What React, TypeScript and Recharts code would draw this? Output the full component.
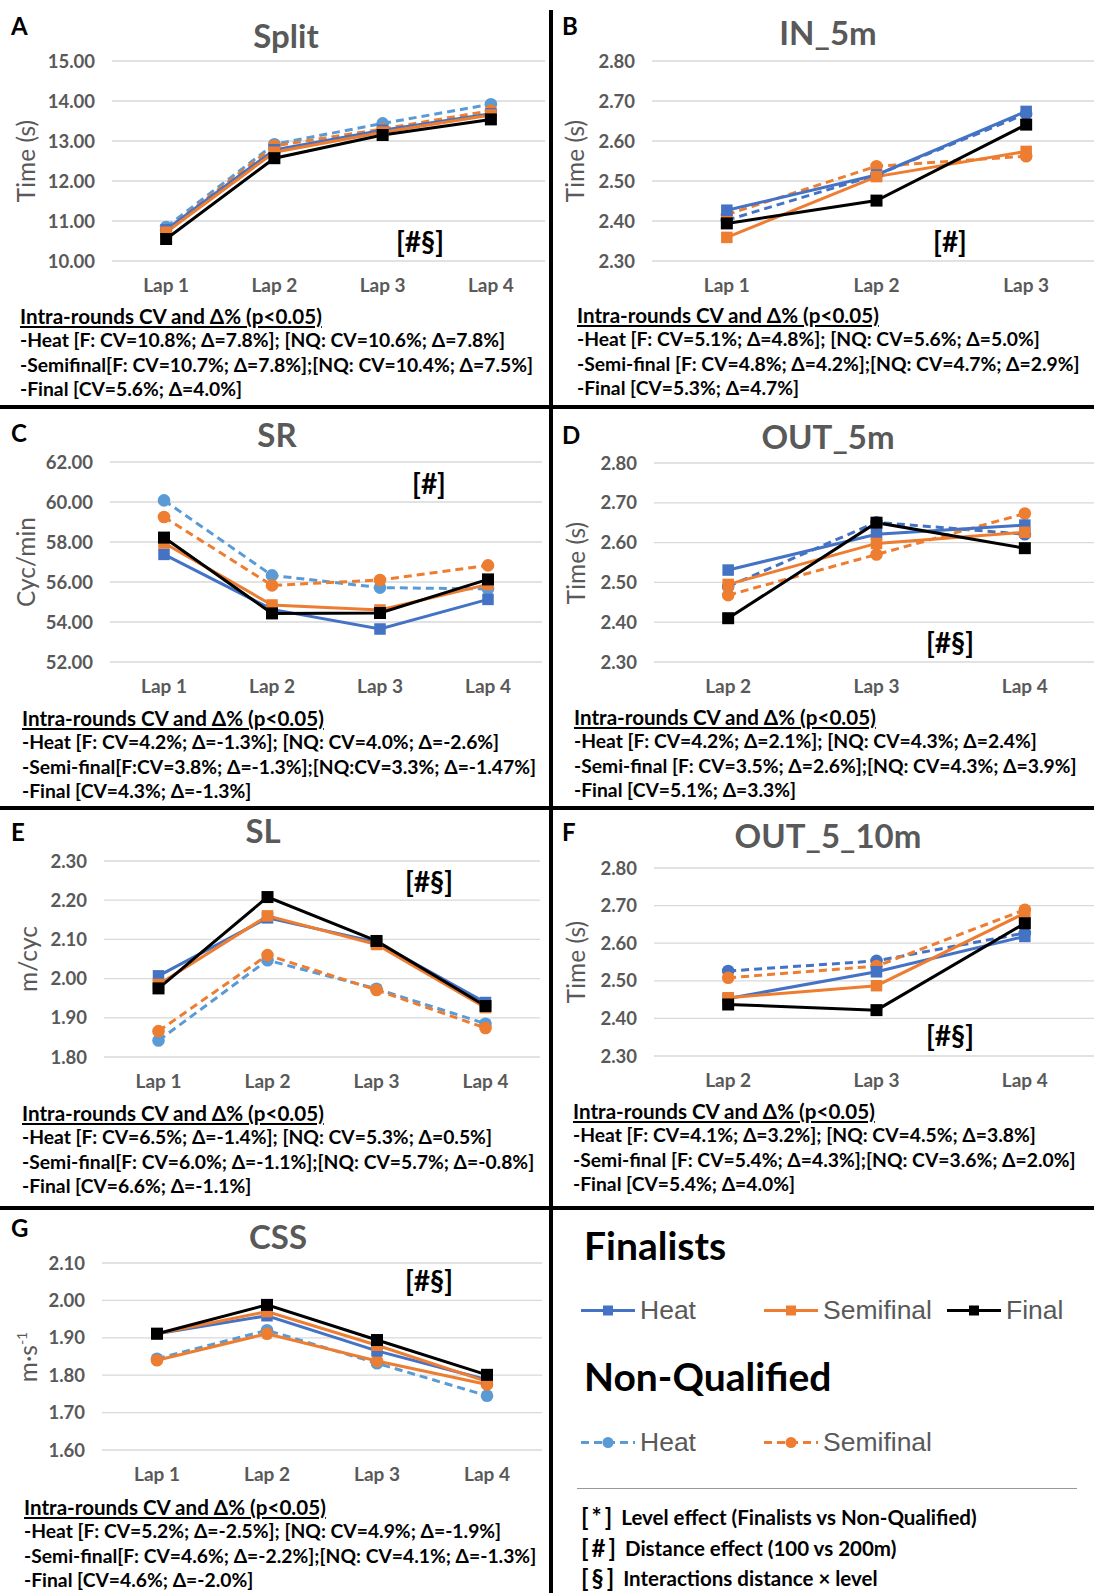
import React from 'react';
import { LineChart, Line, XAxis, YAxis, CartesianGrid } from 'recharts';

// categories
const LAPS_1_4 = ['Lap 1', 'Lap 2', 'Lap 3', 'Lap 4'];
const LAPS_1_3 = ['Lap 1', 'Lap 2', 'Lap 3'];
const LAPS_2_4 = ['Lap 2', 'Lap 3', 'Lap 4'];

// A - Split
const SPLIT_F_HEAT = [10.78, 12.78, 13.27, 13.68];
const SPLIT_F_SEMI = [10.72, 12.72, 13.22, 13.65];
const SPLIT_F_FINAL = [10.55, 12.57, 13.15, 13.54];
const SPLIT_NQ_HEAT = [10.85, 12.92, 13.44, 13.92];
const SPLIT_NQ_SEMI = [10.77, 12.88, 13.3, 13.76];
const SPLIT_TICKS = [10, 11, 12, 13, 14, 15];

// B - IN_5m
const IN5_F_HEAT = [2.427, 2.515, 2.674];
const IN5_F_SEMI = [2.359, 2.511, 2.574];
const IN5_F_FINAL = [2.394, 2.451, 2.641];
const IN5_NQ_HEAT = [2.402, 2.515, 2.668];
const IN5_NQ_SEMI = [2.416, 2.537, 2.562];

// C - SR
const SR_F_HEAT = [57.38, 54.63, 53.65, 55.13];
const SR_F_SEMI = [57.95, 54.85, 54.6, 55.88];
const SR_F_FINAL = [58.22, 54.43, 54.45, 56.13];
const SR_NQ_HEAT = [60.08, 56.33, 55.72, 55.65];
const SR_NQ_SEMI = [59.25, 55.83, 56.1, 56.83];
const SR_TICKS = [52, 54, 56, 58, 60, 62];

// D - OUT_5m
const OUT5_F_HEAT = [2.531, 2.621, 2.644];
const OUT5_F_SEMI = [2.495, 2.598, 2.626];
const OUT5_F_FINAL = [2.41, 2.65, 2.586];
const OUT5_NQ_HEAT = [2.49, 2.651, 2.621];
const OUT5_NQ_SEMI = [2.468, 2.57, 2.673];

// E - SL
const SL_F_HEAT = [2.007, 2.155, 2.093, 1.939];
const SL_F_SEMI = [1.985, 2.16, 2.087, 1.926];
const SL_F_FINAL = [1.975, 2.208, 2.096, 1.93];
const SL_NQ_HEAT = [1.842, 2.047, 1.974, 1.885];
const SL_NQ_SEMI = [1.866, 2.06, 1.971, 1.874];

// F - OUT_5_10m
const OUT10_F_HEAT = [2.453, 2.524, 2.618];
const OUT10_F_SEMI = [2.455, 2.487, 2.68];
const OUT10_F_FINAL = [2.437, 2.422, 2.653];
const OUT10_NQ_HEAT = [2.526, 2.553, 2.627];
const OUT10_NQ_SEMI = [2.508, 2.539, 2.689];

// G - CSS
const CSS_F_HEAT = [1.911, 1.959, 1.865, 1.788];
const CSS_F_SEMI = [1.911, 1.97, 1.88, 1.783];
const CSS_F_FINAL = [1.911, 1.988, 1.894, 1.801];
const CSS_NQ_HEAT = [1.844, 1.92, 1.832, 1.745];
const CSS_NQ_SEMI = [1.84, 1.911, 1.838, 1.775];

const TIME_TICKS = [2.3, 2.4, 2.5, 2.6, 2.7, 2.8];
const SL_TICKS = [1.8, 1.9, 2.0, 2.1, 2.2, 2.3];
const CSS_TICKS = [1.6, 1.7, 1.8, 1.9, 2.0, 2.1];

const NOTES_A = ['-Heat [F: CV=10.8%; Δ=7.8%]; [NQ: CV=10.6%; Δ=7.8%]', '-Semifinal[F: CV=10.7%; Δ=7.8%];[NQ: CV=10.4%; Δ=7.5%]', '-Final [CV=5.6%; Δ=4.0%]'];
const NOTES_B = ['-Heat [F: CV=5.1%; Δ=4.8%]; [NQ: CV=5.6%; Δ=5.0%]', '-Semi-final [F: CV=4.8%; Δ=4.2%];[NQ: CV=4.7%; Δ=2.9%]', '-Final [CV=5.3%; Δ=4.7%]'];
const NOTES_C = ['-Heat [F: CV=4.2%; Δ=-1.3%]; [NQ: CV=4.0%; Δ=-2.6%]', '-Semi-final[F:CV=3.8%; Δ=-1.3%];[NQ:CV=3.3%; Δ=-1.47%]', '-Final [CV=4.3%; Δ=-1.3%]'];
const NOTES_D = ['-Heat [F: CV=4.2%; Δ=2.1%]; [NQ: CV=4.3%; Δ=2.4%]', '-Semi-final [F: CV=3.5%; Δ=2.6%];[NQ: CV=4.3%; Δ=3.9%]', '-Final [CV=5.1%; Δ=3.3%]'];
const NOTES_E = ['-Heat [F: CV=6.5%; Δ=-1.4%]; [NQ: CV=5.3%; Δ=0.5%]', '-Semi-final[F: CV=6.0%; Δ=-1.1%];[NQ: CV=5.7%; Δ=-0.8%]', '-Final [CV=6.6%; Δ=-1.1%]'];
const NOTES_F = ['-Heat [F: CV=4.1%; Δ=3.2%]; [NQ: CV=4.5%; Δ=3.8%]', '-Semi-final [F: CV=5.4%; Δ=4.3%];[NQ: CV=3.6%; Δ=2.0%]', '-Final [CV=5.4%; Δ=4.0%]'];
const NOTES_G = ['-Heat [F: CV=5.2%; Δ=-2.5%]; [NQ: CV=4.9%; Δ=-1.9%]', '-Semi-final[F: CV=4.6%; Δ=-2.2%];[NQ: CV=4.1%; Δ=-1.3%]', '-Final [CV=4.6%; Δ=-2.0%]'];

const BLUE = '#4472C4';
const LIGHT_BLUE = '#5B9BD5';
const ORANGE = '#ED7D31';
const GREY = '#595959';
const FONT = 'Lato, "Open Sans", sans-serif';

const squareDot = (color: string, size: number) => (p: any) => {
  if (p.cx == null || p.cy == null) return <g key={`e${p.index}`} />;
  return <rect key={`s${p.index}`} x={p.cx - size / 2} y={p.cy - size / 2} width={size} height={size} fill={color} />;
};
const circleDot = (color: string, r: number) => (p: any) => {
  if (p.cx == null || p.cy == null) return <g key={`e${p.index}`} />;
  return <circle key={`c${p.index}`} cx={p.cx} cy={p.cy} r={r} fill={color} />;
};

type PanelCfg = {
  letter: string; title: string; yLabel: React.ReactNode; mark: string;
  laps: string[]; heatF: number[]; semiF: number[]; finalF: number[]; nqHeat: number[]; nqSemi: number[];
  ticks: number[]; nqHeatColor: string; nqSemiSolid?: boolean;
  left: number; plotLeft: number; plotRight: number; plotTop: number; plotBottom: number;
  letterY: number; titleX: number; titleY: number; yLabelX: number; markX: number; markY: number;
  notesX: number; notesY: number; notes: string[];
};

const PANELS: PanelCfg[] = [
  { letter: 'A', title: 'Split', yLabel: 'Time (s)', mark: '[#§]', laps: LAPS_1_4,
    heatF: SPLIT_F_HEAT, semiF: SPLIT_F_SEMI, finalF: SPLIT_F_FINAL, nqHeat: SPLIT_NQ_HEAT, nqSemi: SPLIT_NQ_SEMI,
    ticks: SPLIT_TICKS, nqHeatColor: LIGHT_BLUE, left: 0, plotLeft: 112, plotRight: 545, plotTop: 61, plotBottom: 261,
    letterY: 25, titleX: 286, titleY: 35, yLabelX: 25, markX: 420, markY: 241, notesX: 20, notesY: 316, notes: NOTES_A },
  { letter: 'B', title: 'IN_5m', yLabel: 'Time (s)', mark: '[#]', laps: LAPS_1_3,
    heatF: IN5_F_HEAT, semiF: IN5_F_SEMI, finalF: IN5_F_FINAL, nqHeat: IN5_NQ_HEAT, nqSemi: IN5_NQ_SEMI,
    ticks: TIME_TICKS, nqHeatColor: BLUE, left: 555, plotLeft: 652, plotRight: 1101, plotTop: 61, plotBottom: 261,
    letterY: 25, titleX: 828, titleY: 32, yLabelX: 574, markX: 950, markY: 241, notesX: 577, notesY: 315, notes: NOTES_B },
  { letter: 'C', title: 'SR', yLabel: 'Cyc/min', mark: '[#]', laps: LAPS_1_4,
    heatF: SR_F_HEAT, semiF: SR_F_SEMI, finalF: SR_F_FINAL, nqHeat: SR_NQ_HEAT, nqSemi: SR_NQ_SEMI,
    ticks: SR_TICKS, nqHeatColor: LIGHT_BLUE, left: 0, plotLeft: 110, plotRight: 542, plotTop: 462, plotBottom: 662,
    letterY: 432, titleX: 277, titleY: 434, yLabelX: 25, markX: 429, markY: 483, notesX: 22, notesY: 718, notes: NOTES_C },
  { letter: 'D', title: 'OUT_5m', yLabel: 'Time (s)', mark: '[#§]', laps: LAPS_2_4,
    heatF: OUT5_F_HEAT, semiF: OUT5_F_SEMI, finalF: OUT5_F_FINAL, nqHeat: OUT5_NQ_HEAT, nqSemi: OUT5_NQ_SEMI,
    ticks: TIME_TICKS, nqHeatColor: BLUE, left: 555, plotLeft: 654, plotRight: 1099, plotTop: 463, plotBottom: 662,
    letterY: 434, titleX: 828, titleY: 436, yLabelX: 575, markX: 950, markY: 642, notesX: 574, notesY: 717, notes: NOTES_D },
  { letter: 'E', title: 'SL', yLabel: 'm/cyc', mark: '[#§]', laps: LAPS_1_4,
    heatF: SL_F_HEAT, semiF: SL_F_SEMI, finalF: SL_F_FINAL, nqHeat: SL_NQ_HEAT, nqSemi: SL_NQ_SEMI,
    ticks: SL_TICKS, nqHeatColor: LIGHT_BLUE, left: 0, plotLeft: 104, plotRight: 540, plotTop: 861, plotBottom: 1057,
    letterY: 831, titleX: 263, titleY: 830, yLabelX: 27, markX: 429, markY: 881, notesX: 22, notesY: 1113, notes: NOTES_E },
  { letter: 'F', title: 'OUT_5_10m', yLabel: 'Time (s)', mark: '[#§]', laps: LAPS_2_4,
    heatF: OUT10_F_HEAT, semiF: OUT10_F_SEMI, finalF: OUT10_F_FINAL, nqHeat: OUT10_NQ_HEAT, nqSemi: OUT10_NQ_SEMI,
    ticks: TIME_TICKS, nqHeatColor: BLUE, left: 555, plotLeft: 654, plotRight: 1099, plotTop: 868, plotBottom: 1056,
    letterY: 831, titleX: 828, titleY: 835, yLabelX: 575, markX: 950, markY: 1035, notesX: 573, notesY: 1111, notes: NOTES_F },
  { letter: 'G', title: 'CSS', yLabel: <span>m·s<sup style={{ fontSize: 14 }}>-1</sup></span>, mark: '[#§]', laps: LAPS_1_4,
    heatF: CSS_F_HEAT, semiF: CSS_F_SEMI, finalF: CSS_F_FINAL, nqHeat: CSS_NQ_HEAT, nqSemi: CSS_NQ_SEMI,
    ticks: CSS_TICKS, nqHeatColor: LIGHT_BLUE, nqSemiSolid: true, left: 0, plotLeft: 102, plotRight: 542, plotTop: 1263, plotBottom: 1450,
    letterY: 1227, titleX: 278, titleY: 1236, yLabelX: 27, markX: 429, markY: 1280, notesX: 24, notesY: 1507, notes: NOTES_G },
];

const abs = (x: number, y: number, extra: React.CSSProperties = {}): React.CSSProperties => ({
  position: 'absolute', left: x, top: y, whiteSpace: 'nowrap', ...extra,
});

function Panel({ c }: { c: PanelCfg }) {
  const data = c.laps.map((lap, i) => ({
    lap, heatF: c.heatF[i], semiF: c.semiF[i], finalF: c.finalF[i], nqHeat: c.nqHeat[i], nqSemi: c.nqSemi[i],
  }));
  const top = c.plotTop - 10;
  const width = c.plotRight - c.left + 10;
  const height = c.plotBottom - top + 40;
  const half = (c.plotRight - c.plotLeft) / (2 * c.laps.length);
  const yTick = { fontSize: 18.5, fontWeight: 700, fill: GREY, fontFamily: FONT };
  const xTick = { fontSize: 19, fontWeight: 700, fill: GREY, fontFamily: FONT };
  return (
    <>
      <div style={abs(c.left === 0 ? 11 : 562, c.letterY, { transform: 'translateY(-50%)', fontSize: 24, fontWeight: 700, fontFamily: FONT, color: '#000' })}>{c.letter}</div>
      <div style={abs(c.titleX, c.titleY, { transform: 'translate(-50%,-50%)', fontSize: 33, fontWeight: 700, fontFamily: FONT, color: GREY })}>{c.title}</div>
      <div style={abs(c.yLabelX, (c.plotTop + c.plotBottom) / 2, { transform: 'translate(-50%,-50%) rotate(-90deg)', fontSize: 24.5, fontFamily: FONT, color: GREY })}>{c.yLabel}</div>
      <div style={{ position: 'absolute', left: c.left, top }}>
        <LineChart width={width} height={height} data={data} margin={{ top: 10, right: 10, left: 0, bottom: 0 }}>
          <CartesianGrid vertical={false} stroke="#D9D9D9" strokeWidth={1.3} />
          <XAxis dataKey="lap" axisLine={false} tickLine={false} tickMargin={12} height={40} interval={0}
            padding={{ left: half, right: half }} tick={xTick} />
          <YAxis type="number" domain={[c.ticks[0], c.ticks[c.ticks.length - 1]]} ticks={c.ticks} width={c.plotLeft - c.left}
            axisLine={false} tickLine={false} tickMargin={11} tick={yTick} tickFormatter={(v: number) => v.toFixed(2)} />
          <Line dataKey="nqHeat" stroke={c.nqHeatColor} strokeWidth={3} strokeDasharray="8 5" dot={circleDot(c.nqHeatColor, 6.3)} isAnimationActive={false} />
          <Line dataKey="nqSemi" stroke={ORANGE} strokeWidth={3} strokeDasharray={c.nqSemiSolid ? undefined : '8 5'} dot={circleDot(ORANGE, 6.3)} isAnimationActive={false} />
          <Line dataKey="heatF" stroke={BLUE} strokeWidth={3} dot={squareDot(BLUE, 11.5)} isAnimationActive={false} />
          <Line dataKey="semiF" stroke={ORANGE} strokeWidth={3} dot={squareDot(ORANGE, 11.5)} isAnimationActive={false} />
          <Line dataKey="finalF" stroke="#000" strokeWidth={3} dot={squareDot('#000', 12)} isAnimationActive={false} />
        </LineChart>
      </div>
      <div style={abs(c.markX, c.markY, { transform: 'translate(-50%,-50%)', fontSize: 28, fontWeight: 700, fontFamily: FONT, color: '#000' })}>{c.mark}</div>
      <div style={abs(c.notesX, c.notesY - 12, { fontSize: 19.3, fontWeight: 700, fontFamily: FONT, color: '#000', lineHeight: '24.4px' })}>
        <div style={{ textDecoration: 'underline', fontSize: 20.6 }}>Intra-rounds CV and Δ% (p&lt;0.05)</div>
        {c.notes.map((n) => <div key={n}>{n}</div>)}
      </div>
    </>
  );
}

function LegendIcon({ color, dashed, circle }: { color: string; dashed?: boolean; circle?: boolean }) {
  return (
    <svg width={54} height={14} style={{ display: 'block' }}>
      <line x1={0} y1={7} x2={54} y2={7} stroke={color} strokeWidth={3} strokeDasharray={dashed ? '8 5' : undefined} />
      {circle ? <circle cx={27} cy={7} r={5.5} fill={color} /> : <rect x={22} y={2} width={10} height={10} fill={color} />}
    </svg>
  );
}

const LEGEND_F = [
  { label: 'Heat', color: BLUE, x: 581 },
  { label: 'Semifinal', color: ORANGE, x: 764 },
  { label: 'Final', color: '#000', x: 947 },
];
const LEGEND_NQ = [
  { label: 'Heat', color: LIGHT_BLUE, x: 581 },
  { label: 'Semifinal', color: ORANGE, x: 764 },
];
const EFFECTS = [
  { sym: '*', text: 'Level effect (Finalists vs Non-Qualified)', y: 1516 },
  { sym: '#', text: 'Distance effect (100 vs 200m)', y: 1547 },
  { sym: '§', text: 'Interactions distance × level', y: 1577 },
];

function LegendBox() {
  const item = (l: { label: string; color: string; x: number }, y: number, nq: boolean) => (
    <div key={l.label + y} style={abs(l.x, y, { transform: 'translateY(-50%)', display: 'flex', alignItems: 'center' })}>
      <LegendIcon color={l.color} dashed={nq} circle={nq} />
      <span style={{ marginLeft: 5, fontSize: 26.5, fontFamily: '"Liberation Sans", Arial, sans-serif', color: GREY }}>{l.label}</span>
    </div>
  );
  return (
    <>
      <div style={abs(584, 1245, { transform: 'translateY(-50%)', fontSize: 39, fontWeight: 700, fontFamily: FONT, color: '#000' })}>Finalists</div>
      {LEGEND_F.map((l) => item(l, 1310, false))}
      <div style={abs(584, 1376, { transform: 'translateY(-50%)', fontSize: 39, fontWeight: 700, fontFamily: FONT, color: '#000' })}>Non-Qualified</div>
      {LEGEND_NQ.map((l) => item(l, 1442, true))}
      <div style={{ position: 'absolute', left: 577, top: 1488, width: 500, height: 1, background: '#999' }} />
      {EFFECTS.map((e) => (
        <div key={e.sym} style={abs(581, e.y, { transform: 'translateY(-50%)', fontFamily: FONT, fontWeight: 700, color: '#000', display: 'flex', alignItems: 'center' })}>
          <span style={{ fontSize: 24, letterSpacing: 3 }}>[{e.sym}]</span>
          <span style={{ fontSize: 20.5, marginLeft: 6 }}>{e.text}</span>
        </div>
      ))}
    </>
  );
}

export default function App() {
  return (
    <div style={{ position: 'absolute', left: 0, top: 0, width: 1094, height: 1593, overflow: 'hidden', background: '#fff' }}>
      {PANELS.map((c) => <Panel key={c.letter} c={c} />)}
      <LegendBox />
      <div style={{ position: 'absolute', left: 549, top: 10, width: 4, height: 1583, background: '#000' }} />
      {[405, 806, 1206].map((y) => (
        <div key={y} style={{ position: 'absolute', left: 0, top: y, width: 1094, height: 4, background: '#000' }} />
      ))}
    </div>
  );
}
